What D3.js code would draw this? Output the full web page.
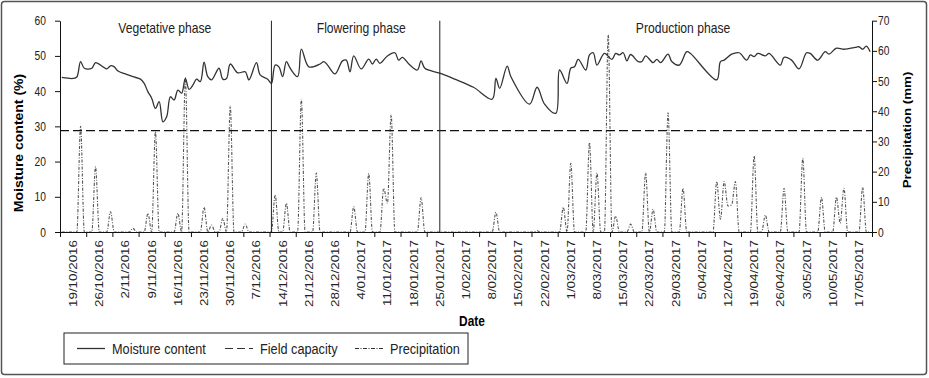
<!DOCTYPE html>
<html lang="en">
<head>
<meta charset="UTF-8">
<title>Moisture content and precipitation</title>
<script src="https://d3js.org/d3.v7.min.js"></script>
<style>
    body { margin: 0; padding: 0; background: #fff; }
    svg { display: block; }
    text { font-family: "Liberation Sans", Arial, sans-serif; }
</style>
</head>
<body>
<svg width="929" height="378"></svg>
<script>
// days are counted from 19/10/2016
const moistDay = [-3, 0, 1, 2, 3, 5, 6, 8, 9, 10, 11, 12, 14, 16, 18, 19, 20, 21, 22, 23, 24, 25, 26, 27, 28, 29,
    30, 31, 32, 33, 34, 35, 36, 37, 39, 40, 41, 42, 44, 46, 47, 49, 50, 52, 53, 54, 55, 56, 57, 58, 60, 61, 63,
    66, 67, 68, 70, 72, 73, 74, 75, 77, 79, 80, 81, 82, 84, 86, 87, 88, 90, 92, 93, 94, 98, 102, 107, 112, 113,
    114, 116, 117, 122, 124, 126, 129, 130, 132, 133, 134, 135, 137, 138, 139, 140, 142, 144, 145, 146, 147,
    148, 149, 151, 152, 153, 155, 156, 157, 159, 160, 162, 164, 165, 172, 173, 174, 176, 178, 180, 181, 182,
    183, 185, 186, 189, 190, 192, 194, 196, 197, 199, 201, 202, 204, 206, 209, 210, 211, 212, 213];
const moistVal = [43.9, 43.6, 44.0, 48.4, 46.5, 46.5, 48.1, 46.9, 46.3, 47.2, 46.9, 45.7, 44.9, 44.1, 43.4, 42.2,
    39.8, 38.0, 35.1, 37.0, 31.3, 32.7, 38.4, 37.5, 40.3, 39.4, 43.6, 40.5, 41.7, 43.4, 42.7, 48.2, 44.1, 43.2,
    46.5, 43.4, 43.6, 47.7, 45.2, 45.5, 43.2, 48.1, 44.6, 43.4, 42.2, 47.4, 46.9, 44.1, 48.4, 46.5, 44.1, 51.9,
    46.9, 47.7, 48.4, 47.4, 44.9, 48.6, 48.8, 45.5, 50.0, 46.3, 49.1, 47.7, 49.1, 47.9, 50.0, 50.9, 48.8, 49.6,
    47.4, 46.0, 48.6, 46.5, 45.1, 43.4, 41.1, 37.7, 43.6, 40.8, 47.1, 44.1, 36.3, 41.1, 36.3, 33.7, 46.0, 42.2,
    46.5, 46.9, 49.0, 46.0, 50.3, 50.9, 47.4, 50.7, 49.0, 50.7, 50.3, 50.9, 48.6, 50.4, 48.4, 48.4, 50.0, 48.1,
    49.0, 48.1, 50.5, 48.4, 47.4, 51.2, 50.7, 43.2, 48.4, 48.8, 50.5, 50.9, 48.8, 50.3, 49.8, 50.7, 50.0, 50.7,
    47.4, 49.6, 48.8, 46.3, 50.9, 50.7, 48.8, 51.2, 50.5, 52.2, 51.9, 52.4, 52.6, 51.9, 52.8, 51.2];

// rain days (mm); every other day of the record is 0
const rainDay = [2, 6, 10, 16, 20, 22, 28, 30, 35, 37, 40, 42, 46, 54, 57, 61, 65, 75, 79, 83, 84, 85, 93, 113,
    124, 131, 133, 138, 140, 143, 145, 149, 153, 155, 159, 163, 172, 173, 174, 175, 176, 177, 182, 185, 190,
    195, 200, 204, 205, 206, 211];
const rainVal = [35, 21.6, 6.7, 1.2, 6.2, 33.2, 6.2, 51.2, 8.2, 2.3, 4.5, 41.7, 2.6, 12.3, 9.5, 44, 19.5, 8.4,
    19.4, 14.5, 9.5, 38.8, 11.4, 6.5, 0.4, 8.2, 22.8, 29.6, 19.6, 65.3, 5.3, 2.6, 19.6, 7.5, 39.5, 14.5, 16.7,
    4.2, 16.7, 8.6, 9, 16.7, 25.2, 5.6, 14.5, 24.4, 11.5, 11.5, 2.9, 14.5, 14.8];
const recordDays = [-3, 213];

const fieldCapacity = 28.8;
const phaseBreaks = ["11/12/2016", "25/01/2017"];
const phaseNames = ["Vegetative phase", "Flowering phase", "Production phase"];
const phaseLabelDays = [24.5, 77, 163];

const xLabels = ["19/10/2016", "26/10/2016", "2/11/2016", "9/11/2016", "16/11/2016", "23/11/2016",
    "30/11/2016", "7/12/2016", "14/12/2016", "21/12/2016", "28/12/2016", "4/01/2017", "11/01/2017",
    "18/01/2017", "25/01/2017", "1/02/2017", "8/02/2017", "15/02/2017", "22/02/2017", "1/03/2017",
    "8/03/2017", "15/03/2017", "22/03/2017", "29/03/2017", "5/04/2017", "12/04/2017", "19/04/2017",
    "26/04/2017", "3/05/2017", "10/05/2017", "17/05/2017"];
const moistTicks = [0, 10, 20, 30, 40, 50, 60];
const rainTicks = [0, 10, 20, 30, 40, 50, 60, 70];

const parse = d3.utcParse("%d/%m/%Y");
const day0 = parse("19/10/2016");
const dayDate = n => new Date(day0.getTime() + n * 864e5);

const plotLeft = 60, plotRight = 872, plotTop = 20.7, plotBottom = 232;
const svg = d3.select("svg");

// the original lettering is a narrow face; squeeze horizontal text about its anchor
function squeeze(sel) {
    sel.attr("transform", function() {
        const tx = +this.getAttribute("x") || 0, ty = +this.getAttribute("y") || 0;
        this.setAttribute("x", 0);
        this.setAttribute("y", 0);
        return `translate(${tx},${ty}) scale(0.82,1)`;
    });
}

svg.append("rect")
    .attr("x", 1.5).attr("y", 1.5).attr("width", 925).attr("height", 373).attr("rx", 3)
    .attr("fill", "#fff").attr("stroke", "#555").attr("stroke-width", 1.5);

const x = d3.scaleUtc()
    .domain([dayDate(-3.5), dayDate(213.5)])
    .range([plotLeft, plotRight]);
const yL = d3.scaleLinear().domain([0, 60]).range([plotBottom, plotTop]);
const yR = d3.scaleLinear().domain([0, 70]).range([plotBottom, plotTop]);

svg.append("clipPath").attr("id", "plot")
    .append("rect").attr("x", plotLeft).attr("y", plotTop - 2)
    .attr("width", plotRight - plotLeft).attr("height", plotBottom - plotTop + 2);

// precipitation, daily
const rain = d3.range(recordDays[0], recordDays[1] + 1).map(n => {
    const i = rainDay.indexOf(n);
    return { d: dayDate(n), v: i < 0 ? 0 : rainVal[i] };
});
svg.append("path")
    .datum(rain)
    .attr("clip-path", "url(#plot)")
    .attr("fill", "none")
    .attr("stroke", "#555")
    .attr("stroke-width", 1.1)
    .attr("stroke-dasharray", "3,1.5,1,1.5")
    .attr("d", d3.line().x(d => x(d.d)).y(d => yR(d.v)).curve(d3.curveMonotoneX));

// field capacity
svg.append("line")
    .attr("x1", plotLeft).attr("x2", plotRight)
    .attr("y1", yL(fieldCapacity)).attr("y2", yL(fieldCapacity))
    .attr("stroke", "#111").attr("stroke-width", 1.1).attr("stroke-dasharray", "9,4");

// moisture content
const moist = moistDay.map((n, i) => ({ d: dayDate(n), v: moistVal[i] }));
svg.append("path")
    .datum(moist)
    .attr("clip-path", "url(#plot)")
    .attr("fill", "none")
    .attr("stroke", "#333")
    .attr("stroke-width", 1.3)
    .attr("d", d3.line().x(d => x(d.d)).y(d => yL(d.v)).curve(d3.curveCatmullRom));

// phase separators and names
svg.append("g").selectAll("line")
    .data(phaseBreaks)
    .join("line")
    .attr("x1", d => x(parse(d))).attr("x2", d => x(parse(d)))
    .attr("y1", plotTop).attr("y2", plotBottom)
    .attr("stroke", "#222").attr("stroke-width", 1);

svg.append("g").selectAll("text")
    .data(phaseNames)
    .join("text")
    .attr("x", (d, i) => x(dayDate(phaseLabelDays[i])))
    .attr("y", 32.5)
    .attr("text-anchor", "middle")
    .attr("font-size", 14.8)
    .attr("fill", "#222")
    .text(d => d)
    .call(squeeze);

// axes
const gL = svg.append("g")
    .attr("transform", `translate(${plotLeft},0)`)
    .call(d3.axisLeft(yL).tickValues(moistTicks).tickSize(5).tickSizeOuter(0).tickPadding(9));
const gR = svg.append("g")
    .attr("transform", `translate(${plotRight},0)`)
    .call(d3.axisRight(yR).tickValues(rainTicks).tickSize(5).tickSizeOuter(0).tickPadding(1));
[gL, gR].forEach(g => {
    g.attr("font-family", null);
    g.selectAll("text").attr("font-size", 12.5).attr("fill", "#222").call(squeeze);
    g.selectAll("line, path").attr("stroke", "#111");
});

const weekEdges = d3.range(0, 32).map(k => dayDate(k * 7 - 3.5));
const gB = svg.append("g")
    .attr("transform", `translate(0,${plotBottom})`)
    .call(d3.axisBottom(x).tickValues(weekEdges).tickFormat("").tickSize(5).tickSizeOuter(0));
gB.selectAll("line, path").attr("stroke", "#111");

svg.append("g")
    .selectAll("text")
    .data(xLabels)
    .join("text")
    .attr("font-size", 13.4)
    .attr("fill", "#222")
    .attr("text-anchor", "end")
    .attr("dy", "0.35em")
    .attr("transform", d => `translate(${x(parse(d))},240) rotate(-90) scale(1,0.85)`)
    .text(d => d);

// axis titles
svg.append("text")
    .attr("font-size", 14)
    .attr("font-weight", "bold")
    .attr("text-anchor", "middle")
    .attr("transform", "translate(23,143) rotate(-90) scale(1,0.85)")
    .text("Moisture content (%)");
svg.append("text")
    .attr("font-size", 13.3)
    .attr("font-weight", "bold")
    .attr("text-anchor", "middle")
    .attr("transform", "translate(911,130) rotate(-90) scale(1,0.85)")
    .text("Precipitation (mm)");
svg.append("text")
    .attr("font-size", 14.5)
    .attr("font-weight", "bold")
    .attr("text-anchor", "middle")
    .attr("x", 472).attr("y", 326)
    .text("Date")
    .call(squeeze);

// legend
const legend = svg.append("g");
legend.append("rect")
    .attr("x", 64).attr("y", 333).attr("width", 404).attr("height", 31)
    .attr("fill", "#fff").attr("stroke", "#222").attr("stroke-width", 1);
const legendItems = [
    { name: "Moisture content", x: 77, dash: null, w: 1.3 },
    { name: "Field capacity", x: 225, dash: "8,4", w: 1.1 },
    { name: "Precipitation", x: 355, dash: "4,1.5,1,1.5", w: 1.1 }
];
legendItems.forEach(it => {
    legend.append("line")
        .attr("x1", it.x).attr("x2", it.x + 28).attr("y1", 348.5).attr("y2", 348.5)
        .attr("stroke", "#333").attr("stroke-width", it.w)
        .attr("stroke-dasharray", it.dash);
    legend.append("text")
        .attr("x", it.x + 35).attr("y", 354)
        .attr("font-size", 15.5)
        .attr("fill", "#222")
        .text(it.name)
        .call(squeeze);
});
</script>
</body>
</html>
